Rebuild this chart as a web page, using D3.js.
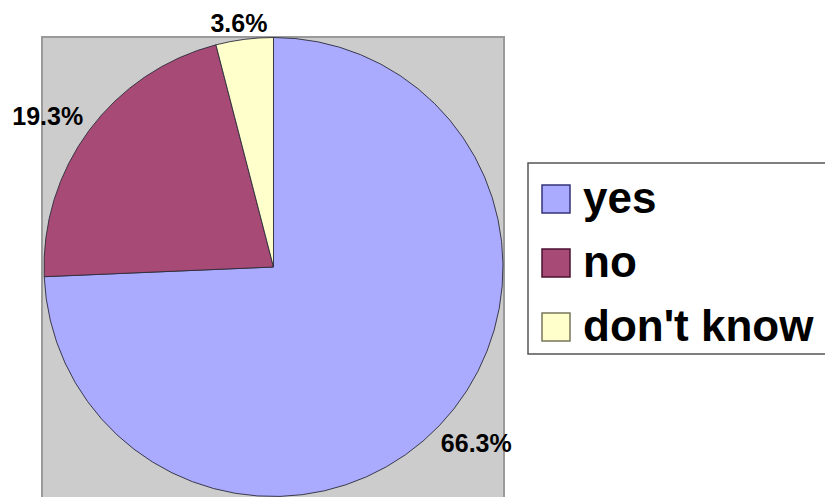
<!DOCTYPE html>
<html>
<head>
<meta charset="utf-8">
<script src="https://cdn.jsdelivr.net/npm/d3@7"></script>
<style>
  html, body { margin: 0; padding: 0; background: #ffffff; }
  svg { display: block; }
</style>
</head>
<body>
<svg id="chart" width="825" height="497"></svg>
<script>
// Survey answers and their shares (percent)
const categories = ["yes", "no", "don't know"];
const shares = [66.3, 19.3, 3.6];
const sliceColors = ["#AAAAFF", "#A84A76", "#FFFFCC"];
const swatchEdges = ["#33337a", "#4a1230", "#77775a"];

const width = 825, height = 497;
const svg = d3.select("#chart");

// Grey plot area behind the pie
const plot = { x: 42, y: 37, w: 462, h: 480 };
svg.append("rect")
  .attr("x", plot.x).attr("y", plot.y)
  .attr("width", plot.w).attr("height", plot.h)
  .attr("fill", "#CCCCCC")
  .attr("stroke", "#9a9a9a")
  .attr("stroke-width", 2);

// Pie geometry
const cx = 273.5, cy = 267, radius = 229.5;
const data = categories.map((c, i) => ({ name: c, value: shares[i], color: sliceColors[i] }));

const pie = d3.pie().sort(null).value(d => d.value);
const arcs = pie(data);
const arc = d3.arc().innerRadius(0).outerRadius(radius);

const g = svg.append("g").attr("transform", `translate(${cx},${cy})`);
g.selectAll("path.slice")
  .data(arcs)
  .join("path")
  .attr("class", "slice")
  .attr("d", arc)
  .attr("fill", d => d.data.color)
  .attr("stroke", "#2b2b3a")
  .attr("stroke-width", 0.9)
  .attr("stroke-linejoin", "round");

// Percentage labels placed just outside each slice's mid-angle,
// kept a little below the top edge of the drawing
const labelFont = 25;
const labelGap = 16;
const topMargin = 14;
g.selectAll("text.pct")
  .data(arcs)
  .join("text")
  .attr("class", "pct")
  .attr("font-family", "'Liberation Sans', Arial, sans-serif")
  .attr("font-weight", "bold")
  .attr("font-size", labelFont)
  .attr("fill", "#000")
  .attr("text-anchor", "middle")
  .text(d => d3.format(".1f")(d.data.value) + "%")
  .each(function (d) {
    const a = (d.startAngle + d.endAngle) / 2;
    const s = Math.sin(a), c = Math.cos(a);
    const bw = this.getComputedTextLength();
    const bh = labelFont * 0.72;
    const px = (radius + labelGap) * s;
    const py = -(radius + labelGap) * c;
    const mx = px + s * bw / 2;
    let my = py - c * bh / 2;
    my = Math.max(my, topMargin - cy + bh / 2);
    d3.select(this).attr("x", mx).attr("y", my + bh / 2);
  });

// Legend
const legend = svg.append("g");
legend.append("rect")
  .attr("x", 528).attr("y", 163)
  .attr("width", 320).attr("height", 191)
  .attr("fill", "#ffffff")
  .attr("stroke", "#555555")
  .attr("stroke-width", 1.5);

const rowY = d3.scalePoint().domain(categories).range([185, 313]);
const rows = legend.selectAll("g.row")
  .data(data)
  .join("g")
  .attr("class", "row")
  .attr("transform", d => `translate(542,${rowY(d.name)})`);

rows.append("rect")
  .attr("width", 28).attr("height", 28)
  .attr("fill", d => d.color)
  .attr("stroke", (d, i) => swatchEdges[i])
  .attr("stroke-width", 1.5);

rows.append("text")
  .attr("x", 41)
  .attr("y", 28)
  .attr("font-family", "'Liberation Sans', Arial, sans-serif")
  .attr("font-weight", "bold")
  .attr("font-size", 44)
  .attr("fill", "#000")
  .text(d => d.name);
</script>
</body>
</html>
